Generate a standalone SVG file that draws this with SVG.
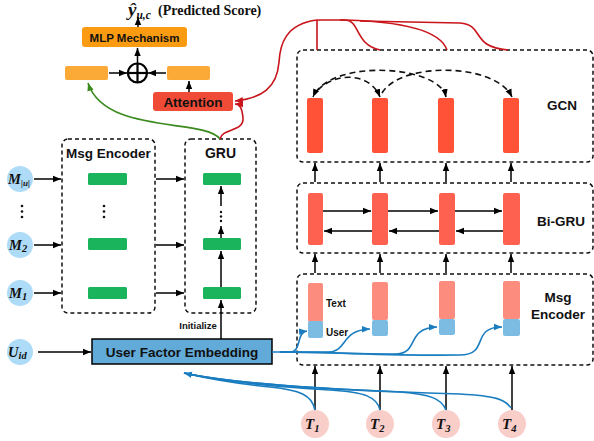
<svg xmlns="http://www.w3.org/2000/svg" width="594" height="441" viewBox="0 0 594 441">
<defs>
<marker id="ak" markerUnits="userSpaceOnUse" markerWidth="10" markerHeight="8" refX="8" refY="4" orient="auto-start-reverse"><path d="M0,0.8 L8,4 L0,7.2 Z" fill="#000"/></marker>
<marker id="ab" markerUnits="userSpaceOnUse" markerWidth="10" markerHeight="8" refX="8" refY="4" orient="auto"><path d="M0,0.8 L8,4 L0,7.2 Z" fill="#1A7DC0"/></marker>
<marker id="ar" markerUnits="userSpaceOnUse" markerWidth="10" markerHeight="8" refX="8" refY="4" orient="auto"><path d="M0,0.8 L8,4 L0,7.2 Z" fill="#C8141A"/></marker>
<marker id="ag" markerUnits="userSpaceOnUse" markerWidth="10" markerHeight="8" refX="8" refY="4" orient="auto"><path d="M0,0.8 L8,4 L0,7.2 Z" fill="#3A8A1E"/></marker>
</defs>
<style>
.lbl{font-family:"Liberation Sans",Arial,sans-serif;font-weight:bold;fill:#111}
.math{font-family:"Liberation Serif","Times New Roman",serif;font-weight:bold;font-style:italic;fill:#111}
.dash{fill:none;stroke:#111;stroke-width:1.5;stroke-dasharray:4 3}
.arr{fill:none;stroke:#000;stroke-width:1.5;marker-end:url(#ak)}
.gdash{fill:none;stroke:#111;stroke-width:1.6;stroke-dasharray:6 4}
.dot{fill:#111}
.green{fill:#1AB45D}
.gcn{fill:#FF5236}
.bgru{fill:#FF6150}
.txt{fill:#FB8C7E}
.usr{fill:#7DBCE2}
.mc{fill:#AEDCF8}
.tc{fill:#F9CDC8}
.blue{fill:none;stroke:#1A7DC0;stroke-width:1.6}
.red{fill:none;stroke:#C8141A;stroke-width:1.6}
</style>

<!-- Title -->
<g id="title">
<text x="128" y="16" class="math" font-size="19">ŷ<tspan font-size="11.5" dy="3">u,c</tspan></text>
<text x="158" y="15" font-family="'Liberation Serif','Times New Roman',serif" font-weight="bold" font-size="14" fill="#111">(Predicted Score)</text>
</g>

<!-- Top prediction part -->
<g id="mlp">
<rect x="82" y="27" width="105" height="20" rx="3" fill="#FA9B12"/>
<text x="134.5" y="41.5" class="lbl" font-size="11.5" text-anchor="middle">MLP Mechanism</text>
</g>
<g id="leftvec"><rect x="65" y="66" width="43" height="14" rx="2" fill="#FBAA37"/></g>
<g id="rightvec"><rect x="167" y="66" width="43" height="14" rx="2" fill="#FBAA37"/></g>
<g id="plus">
<circle cx="137.5" cy="73" r="9.5" fill="#fff" stroke="#000" stroke-width="2.2"/>
<line x1="128" y1="73" x2="147" y2="73" stroke="#000" stroke-width="2.2"/>
<line x1="137.5" y1="63.5" x2="137.5" y2="82.5" stroke="#000" stroke-width="2.2"/>
</g>
<g id="attention">
<rect x="153" y="92" width="80" height="19" rx="3" fill="#F04B36"/>
<text x="193" y="107" class="lbl" font-size="13.5" text-anchor="middle">Attention</text>
</g>

<!-- Left side -->
<g id="msgenc-left">
<rect x="62" y="139" width="93" height="174" rx="6" class="dash"/>
<text x="108.5" y="158" class="lbl" font-size="13.5" text-anchor="middle">Msg Encoder</text>
<rect x="88" y="173" width="39" height="12" rx="1.5" class="green"/>
<rect x="88" y="238" width="39" height="12" rx="1.5" class="green"/>
<rect x="88" y="287" width="39" height="12" rx="1.5" class="green"/>
<circle cx="104" cy="206" r="1.3" class="dot"/><circle cx="104" cy="211.5" r="1.3" class="dot"/><circle cx="104" cy="217" r="1.3" class="dot"/>
</g>
<g id="gru">
<rect x="185" y="139" width="71" height="174" rx="6" class="dash"/>
<text x="220.5" y="158" class="lbl" font-size="14" text-anchor="middle">GRU</text>
<rect x="203" y="173" width="38" height="12" rx="1.5" class="green"/>
<rect x="203" y="238" width="38" height="12" rx="1.5" class="green"/>
<rect x="203" y="287" width="38" height="12" rx="1.5" class="green"/>
<circle cx="221" cy="212" r="1.2" class="dot"/><circle cx="221" cy="216.5" r="1.2" class="dot"/><circle cx="221" cy="221" r="1.2" class="dot"/>
</g>
<g id="m-u"><circle cx="20" cy="179" r="13" class="mc"/><text x="8" y="184" class="math" font-size="14.5">M<tspan font-size="9" dy="2">|u|</tspan></text></g>
<g id="vdots"><circle cx="22" cy="206" r="1.3" class="dot"/><circle cx="22" cy="211.5" r="1.3" class="dot"/><circle cx="22" cy="217" r="1.3" class="dot"/></g>
<g id="m2"><circle cx="20" cy="245" r="13" class="mc"/><text x="9" y="250" class="math" font-size="14.5">M<tspan font-size="10.5" dy="2">2</tspan></text></g>
<g id="m1"><circle cx="20" cy="293" r="13" class="mc"/><text x="9" y="298" class="math" font-size="14.5">M<tspan font-size="10.5" dy="2">1</tspan></text></g>
<g id="uid"><circle cx="20" cy="352" r="13" class="mc"/><text x="8" y="357" class="math" font-size="14.5">U<tspan font-size="10.5" dy="2">id</tspan></text></g>
<g id="ufe">
<rect x="92" y="339" width="180" height="25" fill="#62AAD7" stroke="#000" stroke-width="1.5"/>
<text x="182" y="357" class="lbl" font-size="13.5" text-anchor="middle">User Factor Embedding</text>
</g>

<!-- Right side -->
<g id="gcn">
<rect x="297" y="50" width="296" height="112" rx="6" class="dash"/>
<rect x="307" y="98" width="16" height="55" rx="2" class="gcn"/>
<rect x="372" y="98" width="16" height="55" rx="2" class="gcn"/>
<rect x="438" y="98" width="16" height="55" rx="2" class="gcn"/>
<rect x="503" y="98" width="16" height="55" rx="2" class="gcn"/>
<text x="562" y="110" class="lbl" font-size="13.5" text-anchor="middle">GCN</text>
</g>
<g id="bigru">
<rect x="297" y="183" width="296" height="70" rx="6" class="dash"/>
<rect x="308" y="193" width="15" height="52" rx="2" class="bgru"/>
<rect x="372" y="193" width="16" height="52" rx="2" class="bgru"/>
<rect x="439" y="193" width="16" height="52" rx="2" class="bgru"/>
<rect x="503" y="193" width="17" height="52" rx="2" class="bgru"/>
<text x="561" y="226" class="lbl" font-size="13.5" text-anchor="middle">Bi-GRU</text>
</g>
<g id="msgenc-right">
<rect x="297" y="274" width="296" height="91" rx="6" class="dash"/>
<rect x="308" y="283" width="15" height="39" rx="2" class="txt"/>
<rect x="308" y="321" width="15" height="17" rx="2" class="usr"/>
<rect x="372" y="282" width="16" height="38" rx="2" class="txt"/>
<rect x="372" y="320" width="16" height="16" rx="2" class="usr"/>
<rect x="439" y="281" width="16" height="38" rx="2" class="txt"/>
<rect x="439" y="319" width="16" height="16" rx="2" class="usr"/>
<rect x="503" y="281" width="17" height="38" rx="2" class="txt"/>
<rect x="503" y="319" width="17" height="17" rx="2" class="usr"/>
<text x="326" y="307" class="lbl" font-size="10">Text</text>
<text x="326" y="336" class="lbl" font-size="10">User</text>
<text x="558" y="302" class="lbl" font-size="13.5" text-anchor="middle">Msg</text>
<text x="558" y="319" class="lbl" font-size="13.5" text-anchor="middle">Encoder</text>
</g>
<g id="t1"><circle cx="315" cy="424" r="14" class="tc"/><text x="305" y="429" class="math" font-size="15">T<tspan font-size="10.5" dy="3">1</tspan></text></g>
<g id="t2"><circle cx="380" cy="424" r="14" class="tc"/><text x="370" y="429" class="math" font-size="15">T<tspan font-size="10.5" dy="3">2</tspan></text></g>
<g id="t3"><circle cx="446" cy="424" r="14" class="tc"/><text x="436" y="429" class="math" font-size="15">T<tspan font-size="10.5" dy="3">3</tspan></text></g>
<g id="t4"><circle cx="512" cy="424" r="14" class="tc"/><text x="502" y="429" class="math" font-size="15">T<tspan font-size="10.5" dy="3">4</tspan></text></g>
<text x="198" y="329" class="lbl" font-size="9.5" text-anchor="middle">Initialize</text>

<!-- Connectors -->
<g id="connectors">
<path d="M138 27 L138 17" class="arr"/>
<path d="M137.5 63 L137.5 48" class="arr"/>
<path d="M109 73 L127 73" class="arr"/>
<path d="M166 73 L148 73" class="arr"/>
<path d="M189 92 L189 81" class="arr"/>
<path d="M34 179 L61 179" class="arr"/>
<path d="M34 245 L61 245" class="arr"/>
<path d="M34 293 L61 293" class="arr"/>
<path d="M38 352 L91 352" class="arr"/>
<path d="M156 179 L184 179" class="arr"/>
<path d="M156 245 L184 245" class="arr"/>
<path d="M156 293 L184 293" class="arr"/>
<path d="M221 287 L221 251" class="arr"/>
<path d="M221 238 L221 226" class="arr"/>
<path d="M221 206 L221 186" class="arr"/>
<path d="M221 339 L221 300" class="arr"/>
<path d="M315 182 L315 163" class="arr"/>
<path d="M380 182 L380 163" class="arr"/>
<path d="M446 182 L446 163" class="arr"/>
<path d="M511 182 L511 163" class="arr"/>
<path d="M315 273 L315 254" class="arr"/>
<path d="M380 273 L380 254" class="arr"/>
<path d="M446 273 L446 254" class="arr"/>
<path d="M511 273 L511 254" class="arr"/>
<path d="M315 410 L315 366" class="arr"/>
<path d="M380 410 L380 366" class="arr"/>
<path d="M446 410 L446 366" class="arr"/>
<path d="M512 410 L512 366" class="arr"/>
<path d="M323 211 L371 211" class="arr"/>
<path d="M388 211 L438 211" class="arr"/>
<path d="M455 211 L502 211" class="arr"/>
<path d="M372 231 L324 231" class="arr"/>
<path d="M439 231 L389 231" class="arr"/>
<path d="M503 231 L456 231" class="arr"/>
<path d="M446 97 C440 65 330 58 313 97" class="gdash" marker-end="url(#ak)" marker-start="url(#ak)"/>
<path d="M318 90 C335 72 370 72 380 97" class="gdash" marker-end="url(#ak)"/>
<path d="M382 93 C400 62 495 62 512 97" class="gdash" marker-end="url(#ak)"/>
<path d="M220 139 C205 118 105 135 88 83" stroke="#3A8A1E" stroke-width="1.6" fill="none" marker-end="url(#ag)"/>
<path d="M220 139 C222 128 244 132 243 118 C242 108 240 104 235 104" class="red" marker-end="url(#ar)"/>
<path d="M317 20 C285 24 280 45 279 62 C277 88 262 98 235 101" class="red" marker-end="url(#ar)"/>
<path d="M317 20 L317 50" class="red"/>
<path d="M317 20 L345 20 C360 20 355 45 380 50" class="red"/>
<path d="M340 20 C400 21 440 30 447 50" class="red"/>
<path d="M360 21 L460 23 C485 25 470 47 508 50" class="red"/>
<path d="M272 352 L290 352 C302 352 296 332 307 331" class="blue" marker-end="url(#ab)"/>
<path d="M280 352 L328 352 C348 352 340 330 370 329" class="blue" marker-end="url(#ab)"/>
<path d="M280 352 C330 352 350 354 395 354 C420 354 405 328 437 327" class="blue" marker-end="url(#ab)"/>
<path d="M280 352 C350 353 400 356 460 355 C490 355 470 327 502 327" class="blue" marker-end="url(#ab)"/>
<path d="M315 410 C312 395 300 390 270 387 C230 383 205 378 184 373" class="blue" marker-end="url(#ab)"/>
<path d="M380 410 C377 397 365 392 330 390 C260 386 215 380 184 373" class="blue"/>
<path d="M446 410 C442 399 430 394 400 392 C300 388 225 382 184 373" class="blue"/>
<path d="M511 408 C505 399 495 396 460 394 C330 390 235 384 184 373" class="blue"/>
</g>
</svg>
